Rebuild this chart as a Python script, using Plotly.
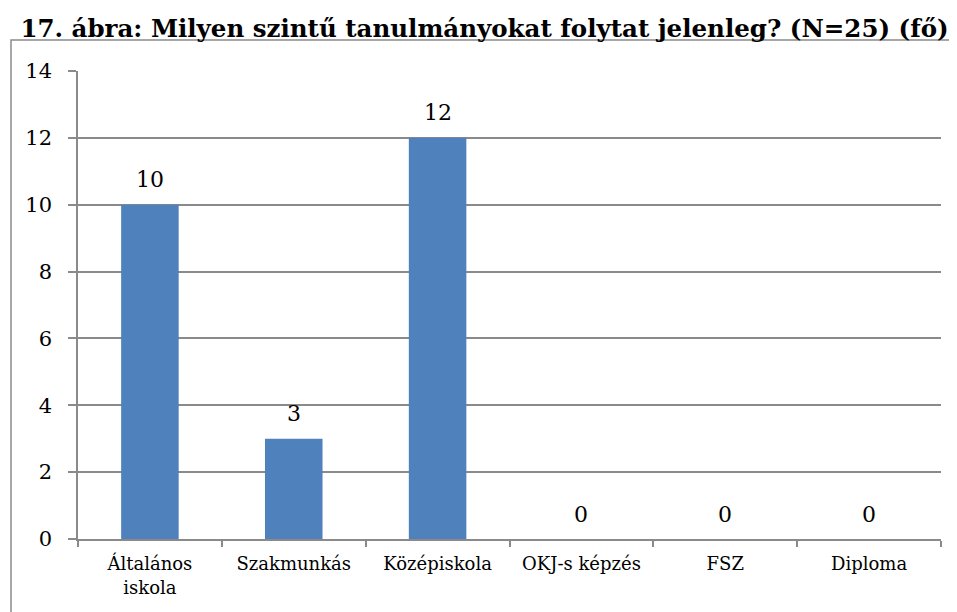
import plotly.graph_objects as go

categories = ["Általános<br>iskola", "Szakmunkás", "Középiskola", "OKJ-s képzés", "FSZ", "Diploma"]
values = [10, 3, 12, 0, 0, 0]
y_ticks = [0, 2, 4, 6, 8, 10, 12, 14]
title_text = "17. ábra: Milyen szintű tanulmányokat folytat jelenleg? (N=25) (fő)"

FONT = "DejaVu Serif"
GRID = "#8a8a8a"

# page body has an 8px default margin; work in shifted coordinates
OFF = 8
W, H = 957 - OFF, 612 - OFF
L, R, T, B = 78 - OFF, 941 - OFF, 71 - OFF, 539 - OFF
pw, ph = R - L, B - T

fig = go.Figure(go.Bar(
    x=categories, y=values,
    marker=dict(color="#4F81BD", line=dict(width=0)),
    width=0.4,
    hoverinfo="x+y",
))

for c, v in zip(categories, values):
    fig.add_annotation(x=c, y=v, text=str(v), showarrow=False,
                       yanchor="middle", yshift=25,
                       font=dict(family=FONT, size=22, color="black"))

fig.update_layout(
    width=W, height=H,
    margin=dict(l=L, r=W - R, t=T, b=H - B, pad=0),
    paper_bgcolor="white", plot_bgcolor="white",
    showlegend=False,
    bargap=0.6,
    title=dict(text="<b>" + title_text + "</b>", x=(484.5 - OFF) / W, xanchor="center",
               y=1 - (28 - OFF) / H, yanchor="middle",
               font=dict(family=FONT, size=24.5, color="black")),
    xaxis=dict(
        showline=True, linecolor=GRID, linewidth=1.5,
        ticks="outside", tickson="boundaries", ticklen=6, tickcolor=GRID, tickwidth=1.5,
        tickfont=dict(family=FONT, size=18, color="black"),
        ticklabelstandoff=8,
        showgrid=False,
    ),
    yaxis=dict(
        range=[0, 14], tickvals=y_ticks,
        showline=True, linecolor=GRID, linewidth=1.5,
        ticks="outside", ticklen=8, tickcolor=GRID, tickwidth=1.5,
        showgrid=True, gridcolor=GRID, gridwidth=1.5,
        zeroline=False,
        tickfont=dict(family=FONT, size=21, color="black"),
        ticklabelstandoff=12,
    ),
    shapes=[dict(
        type="rect", xref="paper", yref="paper",
        x0=(11 - OFF - L) / pw, x1=(970 - OFF - L) / pw,
        y0=(B - 640) / ph, y1=1 + (T - (40 - OFF)) / ph,
        line=dict(color=GRID, width=1.5), fillcolor="rgba(0,0,0,0)", layer="below",
    )],
)

fig.write_html("out.html")
